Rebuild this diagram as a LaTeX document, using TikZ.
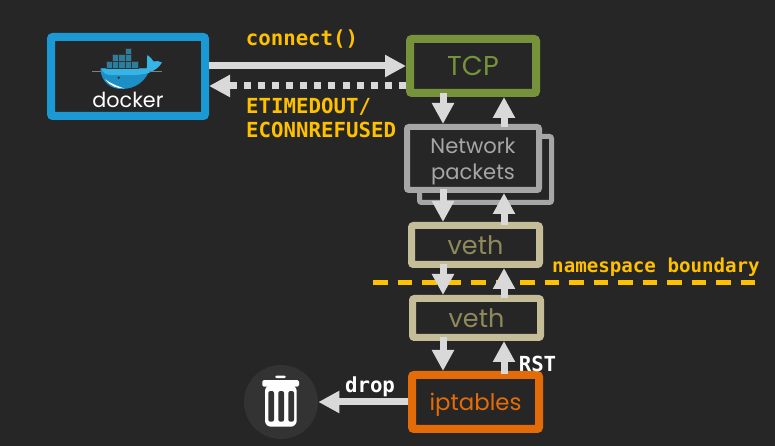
\documentclass[tikz,border=0pt]{standalone}
\usepackage{fontspec}
\setmainfont{Poppins}
\newfontfamily\labelfont{DejaVu Sans Mono}[BoldFont=* Bold]
\usetikzlibrary{arrows.meta}
\usetikzlibrary{calc}
\definecolor{bgcol}{HTML}{262626}
\definecolor{arrcol}{HTML}{D9D9D9}
\definecolor{dockcol}{HTML}{1A99D5}
\definecolor{tcpcol}{HTML}{76933C}
\definecolor{netcol}{HTML}{A6A6A6}
\definecolor{vethcol}{HTML}{C4BD97}
\definecolor{vethtxt}{HTML}{8F8A5C}
\definecolor{iptcol}{HTML}{E36C09}
\definecolor{notecol}{HTML}{FFC000}
\definecolor{bincol}{HTML}{333333}
\definecolor{cargocol}{HTML}{2B7F9E}
\definecolor{hullcol}{HTML}{1C8FC4}
\definecolor{deckcol}{HTML}{35B4E8}
\tikzset{>={Triangle[width=.42cm,length=.42cm]}}
\tikzstyle{boxnode}=[shape=rectangle,rounded corners=.04cm,fill=bgcol,align=center]
\tikzstyle{note}=[font=\labelfont\bfseries\fontsize{11.8}{14.2}\selectfont,color=notecol,align=left]
\tikzstyle{whitenote}=[note,color=white]
\tikzstyle{taro}=[->,line width=.14cm,color=arrcol]
\tikzstyle{stem}=[taro,shorten <=-.07cm]

\begin{document}
\begin{tikzpicture}
	\useasboundingbox[fill=bgcol] (0,0) rectangle (15.5,8.92);
	
	% Boxes
	\node[boxnode,draw=dockcol,line width=.16cm,minimum width=3.08cm,minimum height=1.58cm] (docker) at (2.56,7.39) {};
	\node[boxnode,draw=tcpcol,text=tcpcol,line width=.16cm,minimum width=2.52cm,minimum height=1.08cm,font=\fontsize{15.5}{18}\selectfont] (tcp) at (9.46,7.60) {TCP};
	\node[boxnode,draw=netcol,line width=.10cm,minimum width=2.64cm,minimum height=1.32cm] (netback) at (9.71,5.53) {};
	\node[boxnode,draw=netcol,text=netcol,line width=.12cm,minimum width=2.64cm,minimum height=1.26cm,text depth=0pt,font=\fontsize{12}{14.8}\selectfont] (net) at (9.46,5.75) {Network\\packets};
	\node[boxnode,draw=vethcol,text=vethtxt,line width=.14cm,minimum width=2.56cm,minimum height=.78cm,font=\fontsize{14.5}{18}\selectfont] (vethup) at (9.51,4.02) {veth};
	\node[boxnode,draw=vethcol,text=vethtxt,line width=.14cm,minimum width=2.56cm,minimum height=.78cm,font=\fontsize{14.5}{18}\selectfont] (vethlow) at (9.53,2.56) {veth};
	\node[boxnode,draw=iptcol,text=iptcol,line width=.16cm,minimum width=2.54cm,minimum height=1.08cm,text depth=0pt,font=\fontsize{13}{16}\selectfont] (ipt) at (9.51,.88) {iptables};
	\node[shape=circle,fill=bincol,minimum size=1.48cm] (bin) at (5.62,.88) {};
	
	% Namespace boundary
	\coordinate (nsleft) at (7.46,3.27);
	\coordinate (nsright) at (15.14,3.27);
	\draw[notecol,line width=.09cm,dash pattern=on .29cm off .20cm] (nsleft) -- (nsright);
	\node[note,font=\labelfont\bfseries\fontsize{10.9}{13}\selectfont] (nslabel) at (13.12,3.58) {namespace boundary};
	
	% Whale
	\begin{scope}[shift={(.6,8.52)},x=.00667cm,y=-.00667cm]
	\fill[hullcol] (211,146) .. controls (214,190) and (245,207) .. (275,207) .. controls (318,207) and (348,182) .. (360,146) -- cycle;
	\fill[deckcol] (213,145) -- (350,145) .. controls (353,130) and (350,118) .. (352,105) .. controls (362,112) and (368,120) .. (370,124) .. controls (378,122) and (388,124) .. (396,127) .. controls (388,142) and (375,150) .. (358,158) .. controls (330,168) and (290,165) .. (240,165) .. controls (228,165) and (218,158) .. (213,145) -- cycle;
	\fill[white] (226,178) .. controls (240,198) and (262,206) .. (282,205) .. controls (262,198) and (240,190) .. (226,178) -- cycle;
	\fill[bincol] (266,173) circle (4);
	\draw[gray,line width=.03cm] (186,155) -- (213,155) (358,155) -- (396,155);
	\foreach \x in {228,247,266,286,305}
		\fill[cargocol,draw=bincol,line width=.01cm] (\x,124) rectangle ++(19,20);
	\foreach \x in {247,266,286}
		\fill[cargocol,draw=bincol,line width=.01cm] (\x,104) rectangle ++(19,20);
	\fill[cargocol,draw=bincol,line width=.01cm] (286,85) rectangle ++(19,19);
	\end{scope}
	\node[text=white,font=\fontsize{11.8}{14}\selectfont] (dockerlabel) at ($(docker)+(0,-.46)$) {docker};
	
	% Bin
	\begin{scope}[shift={(4.6,4.72)},x=.00667cm,y=-.00667cm]
	\fill[white,rounded corners=.03cm] (135,497) rectangle (168,504);
	\fill[white,rounded corners=.03cm] (97,510) rectangle (207,530);
	\fill[white,rounded corners=.12cm] (105,525) rectangle (200,650);
	\foreach \x in {115,145,175}
		\fill[bincol,rounded corners=.04cm] (\x,543) rectangle ++(17,92);
	\end{scope}
	
	% Arrows
	\coordinate (down) at (8.86,0);
	\coordinate (up) at (10.08,0);
	\draw[stem] (down |- tcp.south) -- (down |- net.north);
	\draw[stem] (up |- net.north) -- (up |- tcp.south);
	\draw[stem] (down |- net.south) -- (down |- vethup.north);
	\draw[stem] (up |- vethup.north) -- (up |- net.south);
	\draw[stem] (down |- vethup.south) -- (down |- vethlow.north);
	\draw[stem] (up |- vethlow.north) -- (up |- vethup.south);
	\draw[stem] (down |- vethlow.south) -- (down |- ipt.north);
	\draw[stem] (up |- ipt.north) -- (up |- vethlow.south);
	\draw[taro] (ipt.west) -- (bin.east);
	\draw[taro] (docker.east |- tcp.west) -- (tcp.west);
	\draw[taro,dash pattern=on .14cm off .1424cm] ([yshift=-.4cm]tcp.west) -- ([yshift=-.4cm]tcp.west -| docker.east);
	
	% Labels
	\node[note] (connect) at (6.04,8.13) {connect()};
	\node[note,anchor=west,font=\labelfont\bfseries\fontsize{11.8}{14}\selectfont] (errors) at (4.80,6.56) {ETIMEDOUT/\\ECONNREFUSED};
	\node[whitenote] (drop) at (7.40,1.18) {drop};
	\node[whitenote] (rst) at (10.75,1.64) {RST};
\end{tikzpicture}
\end{document}
